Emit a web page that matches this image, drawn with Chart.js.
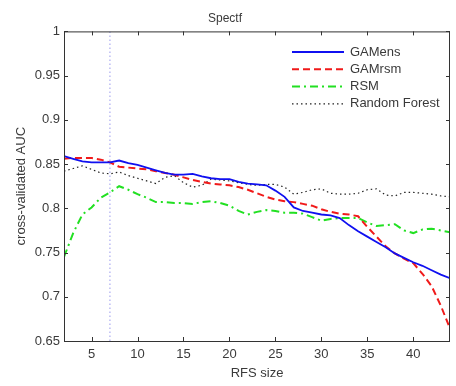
<!DOCTYPE html>
<html lang="en">
  <head>
    <meta charset="UTF-8" />
    <title>Spectf</title>
    <script src="https://cdn.jsdelivr.net/npm/chart.js"></script>
    <style>
      html, body { margin: 0; padding: 0; background: #fff; }
      .wrap { width: 456px; height: 386px; position: relative; }
    </style>
  </head>
  <body>
    <div class="wrap"><canvas id="spectfChart" width="456" height="386"></canvas></div>
    <script>
      // RFS sizes 2..44
      const rfsSizes = [2, 3, 4, 5, 6, 7, 8, 9, 10, 11, 12, 13, 14, 15, 16, 17, 18, 19, 20, 21, 22,
        23, 24, 25, 26, 27, 28, 29, 30, 31, 32, 33, 34, 35, 36, 37, 38, 39, 40, 41, 42, 43, 44];

      const gamens = [0.859, 0.856, 0.853, 0.852, 0.852, 0.852, 0.854, 0.851, 0.849, 0.846, 0.843,
        0.840, 0.838, 0.838, 0.839, 0.836, 0.834, 0.833, 0.833, 0.830, 0.828, 0.827, 0.826, 0.820,
        0.813, 0.801, 0.797, 0.795, 0.793, 0.792, 0.789, 0.781, 0.774, 0.768, 0.762, 0.756, 0.749,
        0.744, 0.739, 0.735, 0.730, 0.725, 0.721];

      const gamrsm = [0.856, 0.857, 0.857, 0.857, 0.855, 0.852, 0.847, 0.846, 0.845, 0.844, 0.842,
        0.840, 0.838, 0.835, 0.832, 0.830, 0.828, 0.827, 0.826, 0.824, 0.821, 0.817, 0.813, 0.810,
        0.808, 0.807, 0.805, 0.803, 0.799, 0.796, 0.794, 0.793, 0.791, 0.779, 0.768, 0.757, 0.749,
        0.743, 0.738, 0.726, 0.712, 0.690, 0.664];

      const rsm = [0.745, 0.772, 0.793, 0.801, 0.812, 0.818, 0.825, 0.821, 0.816, 0.812, 0.807,
        0.807, 0.806, 0.806, 0.805, 0.807, 0.808, 0.806, 0.803, 0.797, 0.793, 0.796, 0.798, 0.797,
        0.795, 0.795, 0.794, 0.790, 0.786, 0.788, 0.789, 0.789, 0.789, 0.784, 0.780, 0.781, 0.782,
        0.775, 0.772, 0.776, 0.777, 0.775, 0.773];

      const randomForest = [0.842, 0.845, 0.848, 0.844, 0.840, 0.839, 0.841, 0.837, 0.834, 0.831,
        0.828, 0.835, 0.837, 0.829, 0.824, 0.826, 0.833, 0.832, 0.831, 0.829, 0.827, 0.826, 0.827,
        0.827, 0.824, 0.816, 0.818, 0.821, 0.822, 0.817, 0.816, 0.816, 0.817, 0.821, 0.822, 0.815,
        0.814, 0.818, 0.818, 0.817, 0.816, 0.814, 0.813];

      const selectedSize = 7;
      const xTicks = [5, 10, 15, 20, 25, 30, 35, 40];
      const yTicks = [0.65, 0.7, 0.75, 0.8, 0.85, 0.9, 0.95, 1];

      const FONT = "'Liberation Sans', Arial, sans-serif";
      const TEXT = "#3a3a3a";

      function pts(values) {
        return values.map((v, i) => ({ x: rfsSizes[i], y: v }));
      }

      // MATLAB-like box with inward ticks, plus the in-axes legend
      const matlabAxes = {
        id: "matlabAxes",
        afterDraw(chart) {
          const { ctx, chartArea: a, scales } = chart;
          ctx.save();
          ctx.strokeStyle = "#333";
          ctx.lineWidth = 1;
          ctx.setLineDash([]);
          ctx.strokeRect(a.left + 0.5, a.top + 0.5, a.right - a.left - 1, a.bottom - a.top);
          ctx.beginPath();
          xTicks.forEach((t) => {
            const px = Math.round(scales.x.getPixelForValue(t)) + 0.5;
            ctx.moveTo(px, a.bottom); ctx.lineTo(px, a.bottom - 4);
            ctx.moveTo(px, a.top); ctx.lineTo(px, a.top + 4);
          });
          yTicks.forEach((t) => {
            const py = Math.round(scales.y.getPixelForValue(t)) + 0.5;
            ctx.moveTo(a.left, py); ctx.lineTo(a.left + 4, py);
            ctx.moveTo(a.right, py); ctx.lineTo(a.right - 4, py);
          });
          ctx.stroke();

          // legend
          const x0 = 292, x1 = 344, tx = 350;
          let y = 52;
          chart.data.datasets.forEach((ds) => {
            if (ds.hideInLegend) return;
            ctx.beginPath();
            ctx.strokeStyle = ds.borderColor;
            ctx.lineWidth = ds.borderWidth;
            ctx.setLineDash(ds.borderDash || []);
            ctx.moveTo(x0, y); ctx.lineTo(x1, y);
            ctx.stroke();
            ctx.setLineDash([]);
            ctx.fillStyle = TEXT;
            ctx.font = "13px " + FONT;
            ctx.textBaseline = "middle";
            ctx.textAlign = "left";
            ctx.fillText(ds.label, tx, y);
            y += 17.3;
          });
          ctx.restore();
        },
      };

      new Chart(document.getElementById("spectfChart"), {
        type: "line",
        data: {
          datasets: [
            {
              label: "GAMens",
              data: pts(gamens),
              borderColor: "#1010f0",
              borderWidth: 1.8,
            },
            {
              label: "GAMrsm",
              data: pts(gamrsm),
              borderColor: "#f01a1a",
              borderWidth: 2,
              borderDash: [7, 4],
            },
            {
              label: "RSM",
              data: pts(rsm),
              borderColor: "#22e022",
              borderWidth: 2,
              borderDash: [8, 4, 2, 4],
            },
            {
              label: "Random Forest",
              data: pts(randomForest),
              borderColor: "#222",
              borderWidth: 1.2,
              borderDash: [1.5, 3],
            },
            {
              label: "selected",
              hideInLegend: true,
              data: [{ x: selectedSize, y: yTicks[0] }, { x: selectedSize, y: yTicks[yTicks.length - 1] }],
              borderColor: "#9a9aee",
              borderWidth: 1,
              borderDash: [1.5, 2.5],
            },
          ],
        },
        options: {
          responsive: false,
          animation: false,
          layout: { padding: { left: 0, right: 6, top: 0, bottom: 0 } },
          elements: {
            point: { radius: 0 },
            line: { tension: 0, fill: false },
          },
          plugins: {
            legend: { display: false },
            tooltip: { enabled: false },
            title: {
              display: true,
              text: "Spectf",
              color: TEXT,
              font: { family: FONT, size: 12, weight: "normal" },
              padding: { top: 11, bottom: 6 },
            },
          },
          scales: {
            x: {
              type: "linear",
              min: 2,
              max: 44,
              afterBuildTicks: (s) => { s.ticks = xTicks.map((v) => ({ value: v })); },
              afterFit: (s) => { s.height = 45; },
              grid: { display: false, drawTicks: false },
              border: { display: false },
              ticks: { color: TEXT, font: { family: FONT, size: 13 }, padding: 6, maxRotation: 0 },
              title: {
                display: true,
                text: "RFS size",
                color: TEXT,
                font: { family: FONT, size: 13 },
                padding: { top: 0, bottom: 5 },
              },
            },
            y: {
              min: 0.65,
              max: 1,
              afterBuildTicks: (s) => { s.ticks = yTicks.map((v) => ({ value: v })); },
              afterFit: (s) => { s.width = 64; },
              grid: { display: false, drawTicks: false },
              border: { display: false },
              ticks: {
                color: TEXT,
                font: { family: FONT, size: 13 },
                padding: 4,
                callback: (v) => String(Number(v.toFixed(2))),
              },
              title: {
                display: true,
                text: "cross-validated AUC",
                color: TEXT,
                font: { family: FONT, size: 13 },
                padding: { top: 14, bottom: 0 },
              },
            },
          },
        },
        plugins: [matlabAxes],
      });
    </script>
  </body>
</html>
